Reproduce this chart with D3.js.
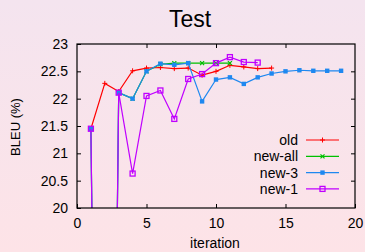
<!DOCTYPE html>
<html>
<head>
<meta charset="utf-8">
<script src="https://cdn.jsdelivr.net/npm/d3@7"></script>
<style>
  html, body { margin: 0; padding: 0; }
  body { width: 365px; height: 252px; overflow: hidden; }
  text { font-family: "Liberation Sans", Arial, sans-serif; fill: #000; }
</style>
</head>
<body>
<div id="chart"></div>
<script>
// values; x = iteration
var iterOld = [1, 2, 3, 4, 5, 6, 7, 8, 9, 10, 11, 12, 13, 14];
var bleuOld = [21.45, 22.28, 22.13, 22.51, 22.56, 22.57, 22.55, 22.56, 22.43, 22.50, 22.61, 22.58, 22.55, 22.56];

var iterAll = [1, 2, 3, 4, 5, 6, 7, 8, 9, 10, 11];
var bleuAll = [21.45, 0, 22.11, 22.00, 22.50, 22.63, 22.65, 22.65, 22.65, 22.65, 22.65];

var iterNew3 = [1, 2, 3, 4, 5, 6, 7, 8, 9, 10, 11, 12, 13, 14, 15, 16, 17, 18, 19];
var bleuNew3 = [21.45, 0, 22.11, 22.00, 22.50, 22.64, 22.62, 22.65, 21.95, 22.35, 22.39, 22.27, 22.39, 22.46, 22.50, 22.52, 22.51, 22.51, 22.51];

var iterNew1 = [1, 2, 3, 4, 5, 6, 7, 8, 9, 10, 11, 12, 13];
var bleuNew1 = [21.45, 0, 22.11, 20.63, 22.05, 22.15, 21.63, 22.36, 22.45, 22.65, 22.76, 22.67, 22.66];

var seriesNames = ['old', 'new-all', 'new-3', 'new-1'];
var xTicks = [0, 5, 10, 15, 20];
var yTicks = [20, 20.5, 21, 21.5, 22, 22.5, 23];

var W = 365, H = 252;
var pLeft = 77, pRight = 355, pTop = 44, pBottom = 208;

var series = [
    {name: seriesNames[0], xs: iterOld, ys: bleuOld, color: '#ff0000', mark: 'plus'},
    {name: seriesNames[1], xs: iterAll, ys: bleuAll, color: '#00c000', mark: 'cross'},
    {name: seriesNames[2], xs: iterNew3, ys: bleuNew3, color: '#1e88f0', mark: 'fsquare'},
    {name: seriesNames[3], xs: iterNew1, ys: bleuNew1, color: '#c000ff', mark: 'osquare'}
];

var x = d3.scaleLinear().domain([0, 20]).range([pLeft, pRight]);
var y = d3.scaleLinear().domain([20, 23]).range([pBottom, pTop]);

var svg = d3.select('#chart').append('svg')
    .attr('width', W).attr('height', H);

var defs = svg.append('defs');
var grad = defs.append('linearGradient')
    .attr('id', 'bg').attr('x1', 0).attr('y1', 0).attr('x2', 0).attr('y2', 1);
grad.append('stop').attr('offset', 0).attr('stop-color', '#f4e4ef');
grad.append('stop').attr('offset', 1).attr('stop-color', '#fde3e7');

defs.append('clipPath').attr('id', 'clip')
    .append('rect').attr('x', pLeft).attr('y', pTop)
    .attr('width', pRight - pLeft).attr('height', pBottom - pTop);

svg.append('rect').attr('width', W).attr('height', H).attr('fill', 'url(#bg)');

// title and axis labels
svg.append('text').attr('x', 190).attr('y', 27)
    .attr('text-anchor', 'middle').style('font-size', '23px').text('Test');

svg.append('text')
    .attr('transform', 'translate(20,127) rotate(-90)')
    .attr('text-anchor', 'middle').style('font-size', '13px').text('BLEU (%)');

svg.append('text').attr('x', 215).attr('y', 248)
    .attr('text-anchor', 'middle').style('font-size', '14px').text('iteration');

// axes with inward ticks, mirrored
function styleAxis(g) {
    g.select('.domain').remove();
    g.selectAll('.tick line').attr('stroke', '#000').attr('stroke-width', 1);
    g.selectAll('.tick text').style('font-size', '14px')
        .style('font-family', '"Liberation Sans", Arial, sans-serif');
}

svg.append('g').attr('transform', 'translate(0,' + pBottom + ')')
    .call(d3.axisBottom(x).tickValues(xTicks).tickSizeInner(-4).tickPadding(10).tickFormat(d3.format('d')))
    .call(styleAxis);
svg.append('g').attr('transform', 'translate(0,' + pTop + ')')
    .call(d3.axisTop(x).tickValues(xTicks.slice(1, -1)).tickSizeInner(-4).tickFormat(''))
    .call(styleAxis);
svg.append('g').attr('transform', 'translate(' + pLeft + ',0)')
    .call(d3.axisLeft(y).tickValues(yTicks).tickSizeInner(-4).tickPadding(9).tickFormat(d3.format('')))
    .call(styleAxis);
svg.append('g').attr('transform', 'translate(' + pRight + ',0)')
    .call(d3.axisRight(y).tickValues(yTicks.slice(1, -1)).tickSizeInner(-4).tickFormat(''))
    .call(styleAxis);

function drawMark(g, kind, cx, cy, color) {
    if (kind === 'plus') {
        g.append('path').attr('d', 'M' + (cx - 2.5) + ',' + cy + 'h5M' + cx + ',' + (cy - 2.5) + 'v5')
            .attr('stroke', color).attr('stroke-width', 1);
    } else if (kind === 'cross') {
        g.append('path').attr('d', 'M' + (cx - 2) + ',' + (cy - 2) + 'l4,4M' + (cx - 2) + ',' + (cy + 2) + 'l4,-4')
            .attr('stroke', color).attr('stroke-width', 1.2);
    } else if (kind === 'fsquare') {
        g.append('rect').attr('x', cx - 2.2).attr('y', cy - 2.2).attr('width', 4.4).attr('height', 4.4)
            .attr('fill', color);
    } else {
        g.append('rect').attr('x', cx - 2.5).attr('y', cy - 2.5).attr('width', 5).attr('height', 5)
            .attr('fill', 'none').attr('stroke', color).attr('stroke-width', 1.3);
    }
}

var plot = svg.append('g').attr('clip-path', 'url(#clip)');
var line = d3.line().x(function(d){ return x(d[0]); }).y(function(d){ return y(d[1]); });

series.forEach(function(s){
    var pts = d3.zip(s.xs, s.ys);
    plot.append('path').datum(pts).attr('d', line)
        .attr('fill', 'none').attr('stroke', s.color).attr('stroke-width', 1.2);
    pts.forEach(function(p){
        drawMark(plot, s.mark, x(p[0]), y(p[1]), s.color);
    });
});

// frame
svg.append('rect').attr('x', pLeft).attr('y', pTop)
    .attr('width', pRight - pLeft).attr('height', pBottom - pTop)
    .attr('fill', 'none').attr('stroke', '#000').attr('stroke-width', 1.2);

// legend
var leg = svg.append('g');
series.forEach(function(s, i){
    var ly = 140 + i * 16.3;
    leg.append('text').attr('x', 298).attr('y', ly).attr('dy', '0.35em')
        .attr('text-anchor', 'end').style('font-size', '14px').text(s.name);
    leg.append('line').attr('x1', 306).attr('x2', 339).attr('y1', ly).attr('y2', ly)
        .attr('stroke', s.color).attr('stroke-width', 1.2);
    drawMark(leg, s.mark, 322.5, ly, s.color);
});
</script>
</body>
</html>
